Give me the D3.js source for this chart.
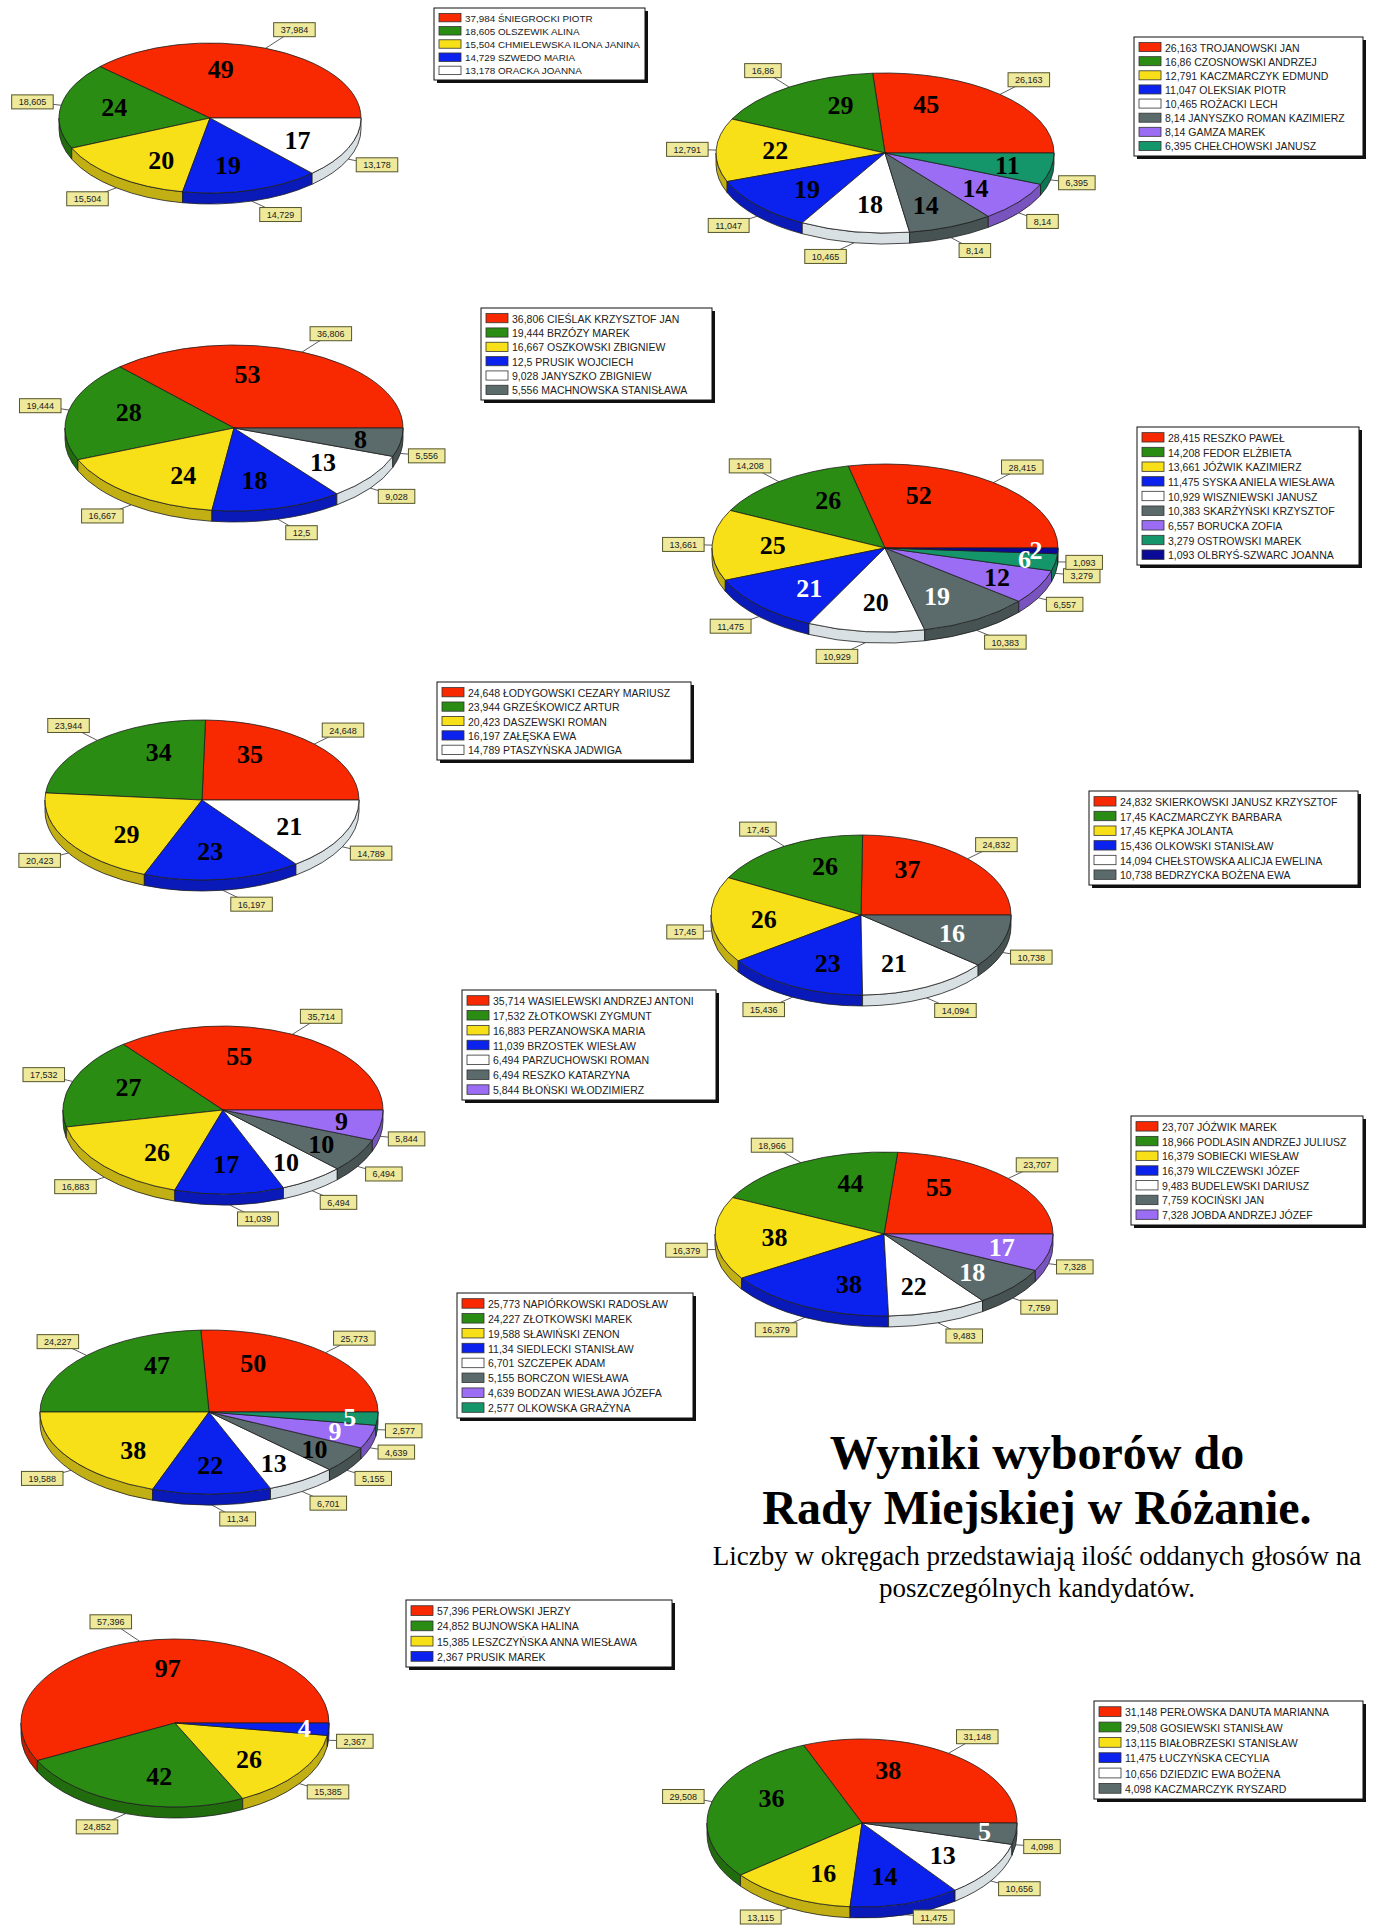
<!DOCTYPE html>
<html>
<head>
<meta charset="utf-8">
<script src="https://cdn.jsdelivr.net/npm/d3@7"></script>
<style>
  body { margin: 0; background: #fff; }
  svg { display: block; }
</style>
</head>
<body>
<div id="chart"></div>
<script>
// percent shown in the yellow boxes / legend, votes shown inside the slices
const pct1 = [37.984, 18.605, 15.504, 14.729, 13.178];
const votes1 = [49, 24, 20, 19, 17];
const names1 = ["ŚNIEGROCKI PIOTR", "OLSZEWIK ALINA", "CHMIELEWSKA ILONA JANINA", "SZWEDO MARIA", "ORACKA JOANNA"];

const pct2 = [26.163, 16.86, 12.791, 11.047, 10.465, 8.14, 8.14, 6.395];
const votes2 = [45, 29, 22, 19, 18, 14, 14, 11];
const names2 = ["TROJANOWSKI JAN", "CZOSNOWSKI ANDRZEJ", "KACZMARCZYK EDMUND", "OLEKSIAK PIOTR", "ROŻACKI LECH", "JANYSZKO ROMAN KAZIMIERZ", "GAMZA MAREK", "CHEŁCHOWSKI JANUSZ"];

const pct3 = [36.806, 19.444, 16.667, 12.5, 9.028, 5.556];
const votes3 = [53, 28, 24, 18, 13, 8];
const names3 = ["CIEŚLAK KRZYSZTOF JAN", "BRZÓZY MAREK", "OSZKOWSKI ZBIGNIEW", "PRUSIK WOJCIECH", "JANYSZKO ZBIGNIEW", "MACHNOWSKA STANISŁAWA"];

const pct4 = [28.415, 14.208, 13.661, 11.475, 10.929, 10.383, 6.557, 3.279, 1.093];
const votes4 = [52, 26, 25, 21, 20, 19, 12, 6, 2];
const names4 = ["RESZKO PAWEŁ", "FEDOR ELŻBIETA", "JÓŹWIK KAZIMIERZ", "SYSKA ANIELA WIESŁAWA", "WISZNIEWSKI JANUSZ", "SKARŻYŃSKI KRZYSZTOF", "BORUCKA ZOFIA", "OSTROWSKI MAREK", "OLBRYŚ-SZWARC JOANNA"];

const pct5 = [24.648, 23.944, 20.423, 16.197, 14.789];
const votes5 = [35, 34, 29, 23, 21];
const names5 = ["ŁODYGOWSKI CEZARY MARIUSZ", "GRZEŚKOWICZ ARTUR", "DASZEWSKI ROMAN", "ZAŁĘSKA EWA", "PTASZYŃSKA JADWIGA"];

const pct6 = [24.832, 17.45, 17.45, 15.436, 14.094, 10.738];
const votes6 = [37, 26, 26, 23, 21, 16];
const names6 = ["SKIERKOWSKI JANUSZ KRZYSZTOF", "KACZMARCZYK BARBARA", "KĘPKA JOLANTA", "OLKOWSKI STANISŁAW", "CHEŁSTOWSKA ALICJA EWELINA", "BEDRZYCKA BOŻENA EWA"];

const pct7 = [35.714, 17.532, 16.883, 11.039, 6.494, 6.494, 5.844];
const votes7 = [55, 27, 26, 17, 10, 10, 9];
const names7 = ["WASIELEWSKI ANDRZEJ ANTONI", "ZŁOTKOWSKI ZYGMUNT", "PERZANOWSKA MARIA", "BRZOSTEK WIESŁAW", "PARZUCHOWSKI ROMAN", "RESZKO KATARZYNA", "BŁOŃSKI WŁODZIMIERZ"];

const pct8 = [23.707, 18.966, 16.379, 16.379, 9.483, 7.759, 7.328];
const votes8 = [55, 44, 38, 38, 22, 18, 17];
const names8 = ["JÓŹWIK MAREK", "PODLASIN ANDRZEJ JULIUSZ", "SOBIECKI WIESŁAW", "WILCZEWSKI JÓZEF", "BUDELEWSKI DARIUSZ", "KOCIŃSKI JAN", "JOBDA ANDRZEJ JÓZEF"];

const pct9 = [25.773, 24.227, 19.588, 11.34, 6.701, 5.155, 4.639, 2.577];
const votes9 = [50, 47, 38, 22, 13, 10, 9, 5];
const names9 = ["NAPIÓRKOWSKI RADOSŁAW", "ZŁOTKOWSKI MAREK", "SŁAWIŃSKI ZENON", "SIEDLECKI STANISŁAW", "SZCZEPEK ADAM", "BORCZON WIESŁAWA", "BODZAN WIESŁAWA JÓZEFA", "OLKOWSKA GRAŻYNA"];

const pct10 = [57.396, 24.852, 15.385, 2.367];
const votes10 = [97, 42, 26, 4];
const names10 = ["PERŁOWSKI JERZY", "BUJNOWSKA HALINA", "LESZCZYŃSKA ANNA WIESŁAWA", "PRUSIK MAREK"];

const pct11 = [31.148, 29.508, 13.115, 11.475, 10.656, 4.098];
const votes11 = [38, 36, 16, 14, 13, 5];
const names11 = ["PERŁOWSKA DANUTA MARIANNA", "GOSIEWSKI STANISŁAW", "BIAŁOBRZESKI STANISŁAW", "ŁUCZYŃSKA CECYLIA", "DZIEDZIC EWA BOŻENA", "KACZMARCZYK RYSZARD"];

const titleLines = ["Wyniki wyborów do", "Rady Miejskiej w Różanie."];
const subtitleLines = ["Liczby w okręgach przedstawiają ilość oddanych głosów na", "poszczególnych kandydatów."];

const districts = [
  { pct: pct1, votes: votes1, names: names1 },
  { pct: pct2, votes: votes2, names: names2 },
  { pct: pct3, votes: votes3, names: names3 },
  { pct: pct4, votes: votes4, names: names4 },
  { pct: pct5, votes: votes5, names: names5 },
  { pct: pct6, votes: votes6, names: names6 },
  { pct: pct7, votes: votes7, names: names7 },
  { pct: pct8, votes: votes8, names: names8 },
  { pct: pct9, votes: votes9, names: names9 },
  { pct: pct10, votes: votes10, names: names10 },
  { pct: pct11, votes: votes11, names: names11 }
];

// placement on the page: pie [cx, cy, rx, ry], legend [x, y, w, h]
const layout = [
  { pie: [210, 118, 151, 75], legend: [434, 8, 211, 72], white: [] },
  { pie: [885, 153, 169, 80], legend: [1134, 37, 229, 119], white: [] },
  { pie: [234, 428, 169, 83], legend: [481, 308, 231, 92], white: [] },
  { pie: [885, 548, 173, 84], legend: [1137, 427, 222, 138], white: [3, 5, 7, 8] },
  { pie: [202, 800, 157, 80], legend: [437, 682, 254, 78], white: [] },
  { pie: [861, 915, 150, 80], legend: [1089, 791, 269, 94], white: [5] },
  { pie: [223, 1110, 160, 84], legend: [462, 990, 254, 110], white: [] },
  { pie: [884, 1234, 169, 82], legend: [1131, 1116, 232, 109], white: [5, 6] },
  { pie: [209, 1412, 169, 82], legend: [457, 1293, 236, 125], white: [6, 7] },
  { pie: [175, 1723, 154, 84], legend: [406, 1600, 266, 67], white: [3] },
  { pie: [862, 1823, 155, 84], legend: [1094, 1701, 269, 98], white: [5] }
];

const sliceColors = ["#f82800", "#2a8c12", "#f8e018", "#0b22ee", "#ffffff", "#5b6b6b", "#9b6cf4", "#15966a", "#0a0a96"];
const depth = 11;

const W = 1374, H = 1926;
const svg = d3.select("#chart").append("svg").attr("width", W).attr("height", H);

const fmtPct = p => String(p).replace(".", ",");
const sideColor = c => c === "#ffffff" ? "#d9e0e4" : d3.color(c).darker(0.7).formatHex();

// angles from d3.pie are used as counterclockwise angles from 3 o'clock
const pie = d3.pie().sort(null).value(d => d.pct).startAngle(0).endAngle(2 * Math.PI);

function unwrap(phi, t) {
  return phi + 2 * Math.PI * Math.round((t - phi) / (2 * Math.PI));
}

districts.forEach((dist, i) => {
  const [cx, cy, rx, ry] = layout[i].pie;
  const k = ry / rx;
  const rows = dist.pct.map((p, j) => ({ pct: p, vote: dist.votes[j], color: sliceColors[j], j }));
  const arcs = pie(rows);

  const arc = d3.arc()
    .innerRadius(0)
    .outerRadius(rx)
    .startAngle(d => Math.PI / 2 - d.startAngle)
    .endAngle(d => Math.PI / 2 - d.endAngle);

  const g = svg.append("g").attr("transform", `translate(${cx},${cy}) scale(1,${k})`);
  const D = depth / k;

  // side walls of the front half
  arcs.forEach(a => {
    const t0 = Math.max(a.startAngle, Math.PI);
    const t1 = Math.min(a.endAngle, 2 * Math.PI);
    if (t1 <= t0) return;
    const p = d3.path();
    p.moveTo(rx * Math.cos(t0), -rx * Math.sin(t0));
    p.arc(0, 0, rx, -t0, -t1, true);
    p.lineTo(rx * Math.cos(t1), -rx * Math.sin(t1) + D);
    p.arc(0, D, rx, -t1, -t0, false);
    p.closePath();
    g.append("path")
      .attr("d", p.toString())
      .attr("fill", sideColor(a.data.color))
      .attr("stroke", "#1e1e1e")
      .attr("stroke-width", 0.8)
      .attr("vector-effect", "non-scaling-stroke");
  });

  g.selectAll(".slice")
    .data(arcs)
    .enter().append("path")
    .attr("class", "slice")
    .attr("d", arc)
    .attr("fill", d => d.data.color)
    .attr("stroke", "#1e1e1e")
    .attr("stroke-width", 0.8)
    .attr("vector-effect", "non-scaling-stroke");

  // value boxes with leader lines
  const boxes = svg.append("g");
  arcs.forEach(a => {
    const tm = (a.startAngle + a.endAngle) / 2;
    const c = Math.cos(tm), s = Math.sin(tm);
    const px = cx + rx * c;
    const py = cy - ry * s + (s < 0 ? depth : 0);
    const bg = boxes.append("g");
    const line = bg.append("line").attr("stroke", "#333").attr("stroke-width", 0.8);
    const rect = bg.append("rect");
    const txt = bg.append("text")
      .attr("font-family", "Liberation Sans, Arial, sans-serif")
      .attr("font-size", 9)
      .attr("fill", "#222")
      .attr("text-anchor", "middle")
      .attr("dominant-baseline", "central")
      .text(fmtPct(a.data.pct));
    const tw = txt.node().getComputedTextLength();
    const bw = tw + 14, bh = 14;
    const bx = px + (c >= 0 ? 1 : -1) * (bw / 2 + 8);
    const by = Math.min(H - 9, py + (s >= 0 ? -s * 20 : -s * 14));
    line.attr("x1", px).attr("y1", py).attr("x2", bx).attr("y2", by);
    rect.attr("x", bx - bw / 2).attr("y", by - bh / 2)
      .attr("width", bw).attr("height", bh)
      .attr("fill", "#efe99b").attr("stroke", "#55552a").attr("stroke-width", 1);
    txt.attr("x", bx).attr("y", by + 0.5);
  });

  // vote counts inside slices
  arcs.forEach(a => {
    const f0 = unwrap(Math.atan2(ry * Math.sin(a.startAngle), rx * Math.cos(a.startAngle)), a.startAngle);
    const f1 = unwrap(Math.atan2(ry * Math.sin(a.endAngle), rx * Math.cos(a.endAngle)), a.endAngle);
    const fm = (f0 + f1) / 2;
    const tm = Math.atan2(rx * Math.sin(fm), ry * Math.cos(fm));
    const frac = a.data.pct / 100;
    const r = 0.65 + 0.25 * Math.max(0, 1 - frac / 0.1);
    svg.append("text")
      .attr("x", cx + rx * r * Math.cos(tm))
      .attr("y", cy - ry * r * Math.sin(tm))
      .attr("font-family", "Liberation Serif, Times New Roman, serif")
      .attr("font-weight", "bold")
      .attr("font-size", 26)
      .attr("text-anchor", "middle")
      .attr("dominant-baseline", "central")
      .attr("fill", layout[i].white.includes(a.data.j) ? "#fff" : "#000")
      .text(a.data.vote);
  });

  // legend
  const [lx, ly, lw, lh] = layout[i].legend;
  const lg = svg.append("g").attr("transform", `translate(${lx},${ly})`);
  lg.append("rect").attr("x", 3).attr("y", 3).attr("width", lw).attr("height", lh).attr("fill", "#111");
  lg.append("rect").attr("width", lw).attr("height", lh).attr("fill", "#fff").attr("stroke", "#111").attr("stroke-width", 1);
  const n = dist.names.length;
  const rowH = (lh - 6) / n;
  const texts = dist.names.map((name, j) => {
    const yy = 3 + rowH * (j + 0.5);
    lg.append("rect")
      .attr("x", 5).attr("y", yy - rowH * 0.32)
      .attr("width", 22).attr("height", rowH * 0.64)
      .attr("fill", sliceColors[j]).attr("stroke", "#333").attr("stroke-width", 0.8);
    return lg.append("text")
      .attr("x", 31).attr("y", yy + 0.5)
      .attr("font-family", "Liberation Sans, Arial, sans-serif")
      .attr("font-size", 9)
      .attr("fill", "#222")
      .attr("dominant-baseline", "central")
      .text(`${fmtPct(dist.pct[j])} ${name}`);
  });
  const longest = d3.max(texts, t => t.node().getComputedTextLength());
  const fs = Math.min(10.5, 9 * (lw - 36) / longest);
  texts.forEach(t => t.attr("font-size", fs));
});

// title block
const tx = 1037;
svg.selectAll(".title")
  .data(titleLines)
  .enter().append("text")
  .attr("class", "title")
  .attr("x", tx)
  .attr("y", (d, i) => 1469 + i * 55)
  .attr("text-anchor", "middle")
  .attr("font-family", "Liberation Serif, Times New Roman, serif")
  .attr("font-weight", "bold")
  .attr("font-size", 48)
  .text(d => d);

svg.selectAll(".subtitle")
  .data(subtitleLines)
  .enter().append("text")
  .attr("class", "subtitle")
  .attr("x", tx)
  .attr("y", (d, i) => 1565 + i * 32)
  .attr("text-anchor", "middle")
  .attr("font-family", "Liberation Serif, Times New Roman, serif")
  .attr("font-size", 27)
  .text(d => d);
</script>
</body>
</html>
